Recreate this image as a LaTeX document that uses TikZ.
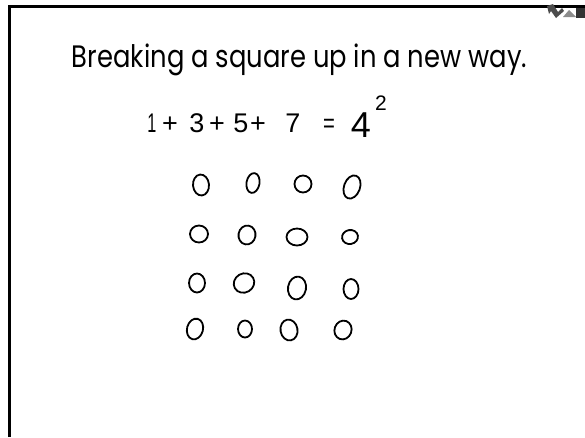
\documentclass[tikz,border=0pt]{standalone}
\usepackage{fontspec}
\setmainfont{Poppins}
\newfontfamily\handfont{Liberation Sans}
\usetikzlibrary{shapes.geometric}
\newsavebox\titlebox
\begin{document}
\sbox\titlebox{\fontsize{31}{36}\selectfont Breaking a square up in a new way.}
\pgfmathsetmacro\titlesx{455/\wd\titlebox}
\begin{tikzpicture}[x=1pt,y=-1pt,
  frameline/.style={line width=3pt,draw=black},
  penring/.style n args={3}{draw=black,line width=1.8pt,ellipse,inner sep=0pt,
     minimum width=#1pt,minimum height=#2pt,rotate=#3},
  hand/.style={anchor=base,inner sep=0pt,font=\handfont\fontsize{27}{30}\selectfont},
]
\useasboundingbox (0,0) rectangle (585,437);
\fill[white] (0,0) rectangle (585,437);
% frame
\coordinate (fbl) at (9.5,437);
\coordinate (ftl) at (9.5,6);
\coordinate (ftr) at (585,6);
\draw[frameline] (fbl) -- (ftl) -- (ftr);
% corner icon
\fill[black!70] (547,6) -- (553,4) -- (558,12) -- (562,8) -- (564,11) -- (556,18) -- (551,11) -- (549,14) -- cycle;
\fill[black!45] (563,17) -- (569,10) -- (576,17) -- cycle;
\fill[black!80] (576,8) rectangle (585,18);
% title
\node[anchor=base,inner sep=0pt] (title) at (299.5,67) {\scalebox{\titlesx}[1]{\usebox\titlebox}};
% equation
\node[hand] (e1) at (152,132) {\scalebox{0.6}[1]{1}};
\node[hand] (e2) at (170,132) {+};
\node[hand] (e3) at (197,132) {3};
\node[hand] (e4) at (217,132) {+};
\node[hand] (e5) at (241,132) {5};
\node[hand] (e6) at (258,132) {+};
\node[hand] (e7) at (293,132) {7};
\node[hand] (e8) at (329,132) {\scalebox{0.75}[1]{=}};
\node[hand,font=\handfont\fontsize{36}{40}\selectfont] (e9) at (361,137) {4};
\node[hand,font=\handfont\fontsize{21}{24}\selectfont] (e10) at (381,110) {2};
% circles
\node[penring={16}{21}{5}]   (c11) at (201,185) {};
\node[penring={13}{20}{-10}] (c12) at (253,183) {};
\node[penring={17}{17}{0}]   (c13) at (303,184) {};
\node[penring={16}{24}{-20}] (c14) at (352,187) {};
\node[penring={18}{17}{0}]   (c21) at (199,234) {};
\node[penring={17}{19}{-10}] (c22) at (247,235) {};
\node[penring={21}{17}{0}]   (c23) at (297,237) {};
\node[penring={16}{14}{10}]  (c24) at (350,237) {};
\node[penring={16}{19}{0}]   (c31) at (197,283) {};
\node[penring={21}{19}{30}]  (c32) at (244,283) {};
\node[penring={18}{23}{-10}] (c33) at (297,288) {};
\node[penring={15}{20}{0}]   (c34) at (351,289) {};
\node[penring={16}{21}{-15}] (c41) at (195,329) {};
\node[penring={14}{17}{0}]   (c42) at (245,329) {};
\node[penring={17}{21}{10}]  (c43) at (289,330) {};
\node[penring={17}{19}{-20}] (c44) at (343,330) {};
\end{tikzpicture}
\end{document}
